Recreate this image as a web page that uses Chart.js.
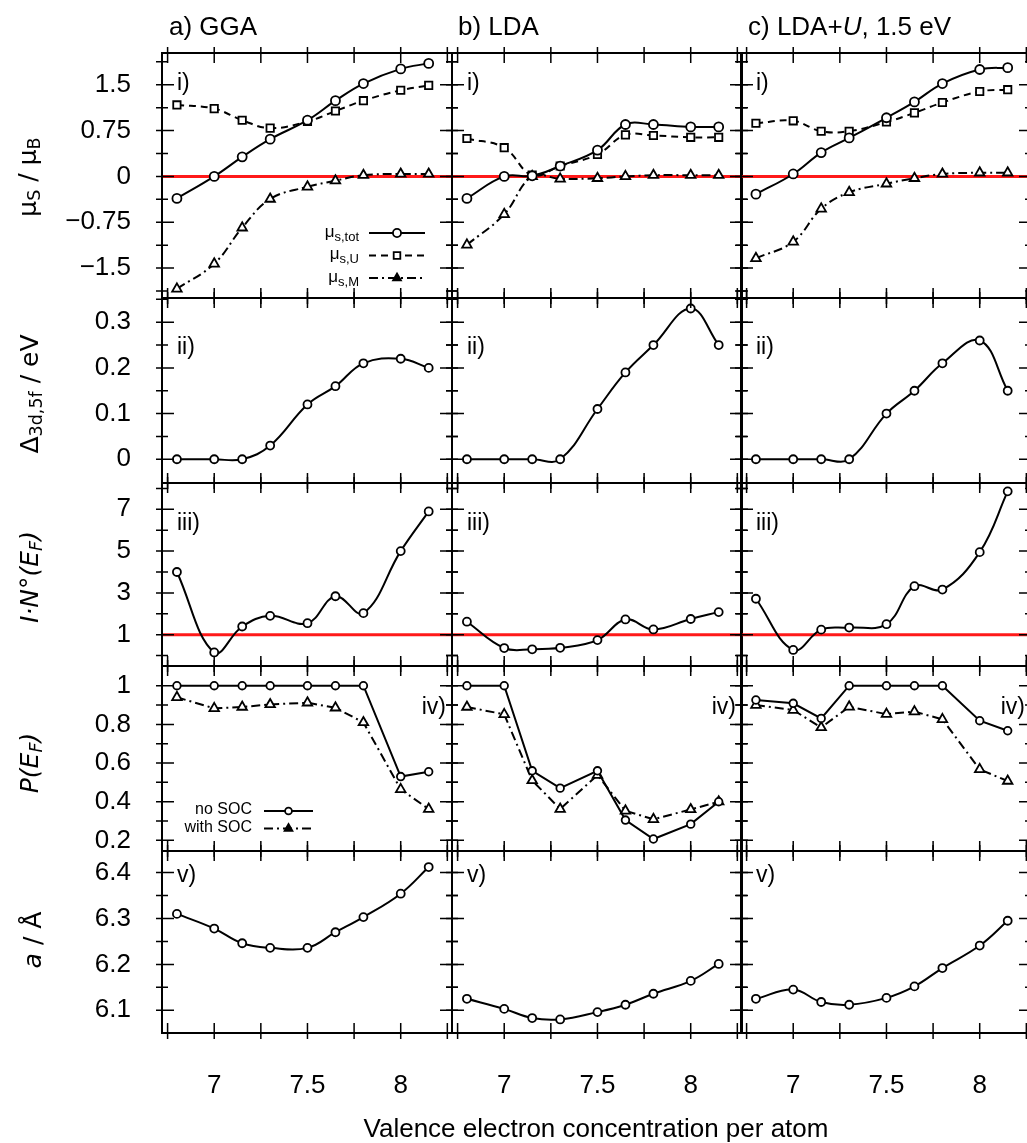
<!DOCTYPE html>
<html>
<head>
<meta charset="utf-8">
<script src="https://cdn.jsdelivr.net/npm/chart.js@4.4.0/dist/chart.umd.min.js"></script>
<style>
body { margin: 0; background: #fff; width: 1027px; height: 1143px; overflow: hidden; position: relative; font-family: "Liberation Sans", Arial, sans-serif; }
canvas.panel { position: absolute; }
.coltitle { position: absolute; top: 11px; font-size: 26px; line-height: 30px; white-space: nowrap; }
.xtitle { position: absolute; left: 296px; width: 600px; top: 1113px; text-align: center; font-size: 26px; line-height: 30px; }
.ytitle { position: absolute; font-family: "DejaVu Sans", sans-serif; font-size: 25px; line-height: 30px; white-space: nowrap; transform: translate(-50%, -50%) rotate(-90deg); }
.ytitle sub { font-size: 70%; vertical-align: -0.25em; }
</style>
</head>
<body>
<script>
// x values (valence electron concentration)
const xValues = [6.8, 7.0, 7.15, 7.3, 7.5, 7.65, 7.8, 8.0, 8.15];
const xTicks = [6.75, 7, 7.25, 7.5, 7.75, 8, 8.25];
const xTickLabels = [7, 7.5, 8];
const xMin = 6.72, xMax = 8.275;

const columnTitles = ['a) GGA', 'b) LDA', 'c) LDA+<i>U</i>, 1.5 eV'];

// i) spin moments
const muTotGGA = [-0.36, 0, 0.32, 0.61, 0.92, 1.24, 1.52, 1.76, 1.85];
const muUGGA = [1.17, 1.11, 0.92, 0.79, 0.9, 1.07, 1.24, 1.41, 1.49];
const muMGGA = [-1.84, -1.43, -0.84, -0.37, -0.17, -0.07, 0.02, 0.04, 0.04];
const muTotLDA = [-0.36, 0, 0.01, 0.17, 0.43, 0.85, 0.85, 0.81, 0.81];
const muULDA = [0.62, 0.47, 0.02, 0.17, 0.36, 0.68, 0.67, 0.64, 0.64];
const muMLDA = [-1.12, -0.62, 0, -0.04, -0.03, 0, 0.02, 0.02, 0.02];
const muTotLDAU = [-0.29, 0.04, 0.39, 0.63, 0.96, 1.22, 1.52, 1.75, 1.78];
const muULDAU = [0.87, 0.91, 0.74, 0.74, 0.89, 1.04, 1.21, 1.39, 1.42];
const muMLDAU = [-1.34, -1.07, -0.53, -0.26, -0.12, -0.03, 0.04, 0.06, 0.06];

// ii) exchange splitting
const deltaGGA = [0, 0, 0, 0.03, 0.12, 0.16, 0.21, 0.22, 0.2];
const deltaLDA = [0, 0, 0, 0, 0.11, 0.19, 0.25, 0.33, 0.25];
const deltaLDAU = [0, 0, 0, 0, 0.1, 0.15, 0.21, 0.26, 0.15];

// iii) Stoner product
const stonerGGA = [4.0, 0.15, 1.39, 1.9, 1.55, 2.84, 2.03, 5.0, 6.9];
const stonerLDA = [1.62, 0.36, 0.3, 0.37, 0.74, 1.73, 1.25, 1.75, 2.08];
const stonerLDAU = [2.72, 0.27, 1.24, 1.34, 1.5, 3.32, 3.16, 4.95, 7.86];

// iv) spin polarisation
const polNoSocGGA = [1, 1, 1, 1, 1, 1, 1, 0.53, 0.555];
const polSocGGA = [0.94, 0.883, 0.89, 0.903, 0.912, 0.886, 0.81, 0.464, 0.362];
const polNoSocLDA = [1, 1, 0.56, 0.47, 0.56, 0.305, 0.207, 0.284, 0.4];
const polSocLDA = [0.89, 0.852, 0.51, 0.362, 0.538, 0.353, 0.309, 0.36, 0.4];
const polNoSocLDAU = [0.926, 0.909, 0.831, 1, 1, 1, 1, 0.819, 0.767];
const polSocLDAU = [0.9, 0.874, 0.784, 0.891, 0.853, 0.866, 0.826, 0.567, 0.507];

// v) lattice parameter
const latticeGGA = [6.31, 6.278, 6.246, 6.236, 6.236, 6.27, 6.303, 6.354, 6.412];
const latticeLDA = [6.125, 6.103, 6.083, 6.08, 6.096, 6.112, 6.136, 6.164, 6.201];
const latticeLDAU = [6.125, 6.145, 6.118, 6.112, 6.127, 6.152, 6.192, 6.241, 6.295];

// y axes
const yTicksMu = [-1.875, -1.5, -1.125, -0.75, -0.375, 0, 0.375, 0.75, 1.125, 1.5, 1.875];
const yLabelsMu = [-1.5, -0.75, 0, 0.75, 1.5];
const yTicksDelta = [0, 0.05, 0.1, 0.15, 0.2, 0.25, 0.3, 0.35];
const yLabelsDelta = [0, 0.1, 0.2, 0.3];
const yTicksStoner = [0, 1, 2, 3, 4, 5, 6, 7, 8];
const yLabelsStoner = [1, 3, 5, 7];
const yTicksPol = [0.2, 0.3, 0.4, 0.5, 0.6, 0.7, 0.8, 0.9, 1.0];
const yLabelsPol = [0.2, 0.4, 0.6, 0.8, 1];
const yTicksLattice = [6.1, 6.15, 6.2, 6.25, 6.3, 6.35, 6.4];
const yLabelsLattice = [6.1, 6.2, 6.3, 6.4];

// layout
const colLeft = [162, 452, 741];
const panelW = 290;
const rowTop = [53, 298, 483, 666, 851];
const rowH = [245, 185, 183, 185, 182];

const FONT = "'Liberation Sans', Arial, sans-serif";
Chart.defaults.font.family = FONT;
Chart.defaults.color = '#000';

const toXY = arr => arr.map((v, i) => ({ x: xValues[i], y: v }));

function series(values, style, extra) {
  const base = {
    data: toXY(values),
    borderColor: '#000',
    borderWidth: 2,
    backgroundColor: '#fff',
    pointBackgroundColor: '#fff',
    pointBorderColor: '#000',
    pointBorderWidth: 1.8,
    pointStyle: 'circle',
    pointRadius: 4,
    tension: 0.4,
    order: 1
  };
  if (style === 'dash') base.borderDash = [7, 5];
  if (style === 'dashdot') base.borderDash = [9, 4, 2, 4];
  return Object.assign(base, extra || {});
}

function redLine(level) {
  return {
    data: [{ x: xMin, y: level }, { x: xMax, y: level }],
    borderColor: 'rgba(255,0,0,0.9)',
    borderWidth: 3,
    pointRadius: 0,
    tension: 0,
    order: 10
  };
}

const rows = [
  {
    label: 'i)', labelSide: 'left', labelDy: 31,
    min: -1.99, max: 2.02, ticks: yTicksMu, labelled: yLabelsMu,
    datasets: [[muTotGGA, muUGGA, muMGGA], [muTotLDA, muULDA, muMLDA], [muTotLDAU, muULDAU, muMLDAU]].map(cols => [
      series(cols[0], 'solid', { pointRadius: 4.5, legendName: 'μ', legendSub: 's,tot' }),
      series(cols[1], 'dash', { pointStyle: 'rect', pointRadius: 5.2, legendName: 'μ', legendSub: 's,U' }),
      series(cols[2], 'dashdot', { pointStyle: 'triangle', pointRadius: 5.5, legendName: 'μ', legendSub: 's,M' }),
      redLine(0)
    ])
  },
  {
    label: 'ii)', labelSide: 'left', labelDy: 50,
    min: -0.052, max: 0.353, ticks: yTicksDelta, labelled: yLabelsDelta,
    datasets: [deltaGGA, deltaLDA, deltaLDAU].map(v => [series(v, 'solid')])
  },
  {
    label: 'iii)', labelSide: 'left', labelDy: 41,
    min: -0.5, max: 8.26, ticks: yTicksStoner, labelled: yLabelsStoner,
    datasets: [stonerGGA, stonerLDA, stonerLDAU].map(v => [series(v, 'solid'), redLine(1)])
  },
  {
    label: 'iv)', labelSide: 'right', labelDy: 42,
    min: 0.145, max: 1.102, ticks: yTicksPol, labelled: yLabelsPol,
    datasets: [[polNoSocGGA, polSocGGA], [polNoSocLDA, polSocLDA], [polNoSocLDAU, polSocLDAU]].map(p => [
      series(p[0], 'solid', { tension: 0, pointRadius: 3.8, legendName: 'no SOC' }),
      series(p[1], 'dashdot', { tension: 0, pointStyle: 'triangle', pointRadius: 5.5, legendName: 'with SOC' })
    ])
  },
  {
    label: 'v)', labelSide: 'left', labelDy: 25,
    min: 6.0505, max: 6.447, ticks: yTicksLattice, labelled: yLabelsLattice,
    datasets: [latticeGGA, latticeLDA, latticeLDAU].map(v => [series(v, 'solid')])
  }
];

const legends = {
  '0-0': { textRight: 197, top: 180, step: 22.5, sample0: 207, sampleLen: 56, font: '17px ' + FONT, subFont: '13px ' + FONT },
  '3-0': { textRight: 90, top: 145, step: 17.5, sample0: 102, sampleLen: 49, font: '16px ' + FONT }
};

const fmt = v => String(v).replace('-', '\u2212');

const panelDecor = {
  id: 'panelDecor',
  afterDatasetsDraw(chart, args, o) {
    const { ctx, chartArea: a } = chart;
    const xs = chart.scales.x, ys = chart.scales.y;
    ctx.save();
    ctx.strokeStyle = '#000';
    ctx.setLineDash([]);
    ctx.lineWidth = 1.5;
    ctx.beginPath();
    xs.ticks.forEach(t => {
      const px = xs.getPixelForValue(t.value);
      ctx.moveTo(px, a.bottom + 6); ctx.lineTo(px, a.bottom - 10);
      ctx.moveTo(px, a.top - 6); ctx.lineTo(px, a.top + 10);
    });
    ys.ticks.forEach(t => {
      const py = ys.getPixelForValue(t.value);
      const len = o.labelled.includes(t.value) ? 12 : 6;
      ctx.moveTo(a.left - 6, py); ctx.lineTo(a.left + len, py);
      ctx.moveTo(a.right + 6, py); ctx.lineTo(a.right - len, py);
    });
    ctx.stroke();
    ctx.lineWidth = 2;
    ctx.strokeRect(a.left, a.top, a.width, a.height);

    // panel label
    ctx.fillStyle = '#000';
    ctx.font = '23px ' + FONT;
    ctx.textBaseline = 'middle';
    if (o.labelSide === 'right') {
      ctx.textAlign = 'right';
      ctx.fillText(o.label, a.right - 6, a.top + o.labelDy);
    } else {
      ctx.textAlign = 'left';
      ctx.fillText(o.label, a.left + 15, a.top + o.labelDy);
    }

    // legend
    const lg = o.legend;
    if (lg) {
      chart.data.datasets.filter(d => d.legendName).forEach((d, i) => {
        const yy = a.top + lg.top + i * lg.step;
        const tx = a.left + lg.textRight;
        ctx.fillStyle = '#000';
        ctx.textAlign = 'right';
        ctx.textBaseline = 'middle';
        let sw = 0;
        if (d.legendSub) {
          ctx.font = lg.subFont;
          sw = ctx.measureText(d.legendSub).width;
          ctx.fillText(d.legendSub, tx, yy + 4);
        }
        ctx.font = lg.font;
        ctx.fillText(d.legendName, tx - sw, yy - 1);
        const s0 = a.left + lg.sample0, s1 = s0 + lg.sampleLen;
        ctx.lineWidth = 2;
        ctx.setLineDash(d.borderDash || []);
        ctx.beginPath();
        ctx.moveTo(s0, yy); ctx.lineTo(s1, yy);
        ctx.stroke();
        ctx.setLineDash([]);
        ctx.fillStyle = d.pointStyle === 'triangle' ? '#000' : '#fff';
        ctx.lineWidth = 1.8;
        Chart.helpers.drawPoint(ctx, { pointStyle: d.pointStyle, radius: d.pointStyle === 'triangle' ? 4.5 : d.pointRadius * 0.9, rotation: 0, borderWidth: 1.8 }, (s0 + s1) / 2, yy);
      });
    }
    ctx.restore();
  }
};

function makePanel(r, c) {
  const row = rows[r];
  const L = c === 0 ? 162 : 14, T = 14, R = 14, B = r === 4 ? 110 : 14;
  const w = panelW + L + R, h = rowH[r] + T + B;
  const cv = document.createElement('canvas');
  cv.className = 'panel';
  cv.width = w; cv.height = h;
  cv.style.width = w + 'px'; cv.style.height = h + 'px';
  cv.style.left = (colLeft[c] - L) + 'px';
  cv.style.top = (rowTop[r] - T) + 'px';
  document.body.appendChild(cv);

  new Chart(cv, {
    type: 'line',
    data: { datasets: row.datasets[c] },
    options: {
      responsive: false,
      animation: false,
      events: [],
      layout: { padding: { top: T, right: R, left: 0, bottom: 0 } },
      plugins: {
        legend: { display: false },
        tooltip: { enabled: false },
        panelDecor: {
          label: row.label, labelSide: row.labelSide, labelDy: row.labelDy,
          labelled: row.labelled, legend: legends[r + '-' + c]
        }
      },
      scales: {
        x: {
          type: 'linear', min: xMin, max: xMax,
          grid: { display: false, drawTicks: false }, border: { display: false },
          afterBuildTicks: s => { s.ticks = xTicks.map(v => ({ value: v })); },
          ticks: {
            display: r === 4, autoSkip: false, maxRotation: 0, padding: 37,
            font: { size: 26 }, color: '#000',
            callback: v => xTickLabels.includes(v) ? fmt(v) : ''
          },
          afterFit: s => { s.height = B; s.paddingLeft = s.paddingRight = s.paddingTop = s.paddingBottom = 0; }
        },
        y: {
          type: 'linear', min: row.min, max: row.max,
          grid: { display: false, drawTicks: false }, border: { display: false },
          afterBuildTicks: s => { s.ticks = row.ticks.map(v => ({ value: v })); },
          ticks: {
            display: c === 0, autoSkip: false, padding: 31,
            font: { size: 26 }, color: '#000',
            callback: v => row.labelled.includes(v) ? fmt(v) : ''
          },
          afterFit: s => { s.width = L; s.paddingLeft = s.paddingRight = s.paddingTop = s.paddingBottom = 0; }
        }
      }
    },
    plugins: [panelDecor]
  });
}

for (let r = 0; r < rows.length; r++) {
  for (let c = 0; c < 3; c++) makePanel(r, c);
}

// text around the grid
const titleLeft = [169, 458, 748];
columnTitles.forEach((t, i) => {
  const d = document.createElement('div');
  d.className = 'coltitle';
  d.style.left = titleLeft[i] + 'px';
  d.innerHTML = t;
  document.body.appendChild(d);
});

const yTitles = [
  { html: 'μ<sub>S</sub> / μ<sub>B</sub>', x: 31, y: 177 },
  { html: 'Δ<sub>3d,5f</sub> / eV', x: 33, y: 394 },
  { html: '<i>I·N°(E<sub>F</sub>)</i>', x: 33, y: 577 },
  { html: '<i>P(E<sub>F</sub>)</i>', x: 33, y: 763 },
  { html: '<i>a</i> / Å', x: 33, y: 940 }
];
yTitles.forEach(t => {
  const d = document.createElement('div');
  d.className = 'ytitle';
  d.style.left = t.x + 'px';
  d.style.top = t.y + 'px';
  d.innerHTML = t.html;
  document.body.appendChild(d);
});

const xt = document.createElement('div');
xt.className = 'xtitle';
xt.textContent = 'Valence electron concentration per atom';
document.body.appendChild(xt);
</script>
</body>
</html>
